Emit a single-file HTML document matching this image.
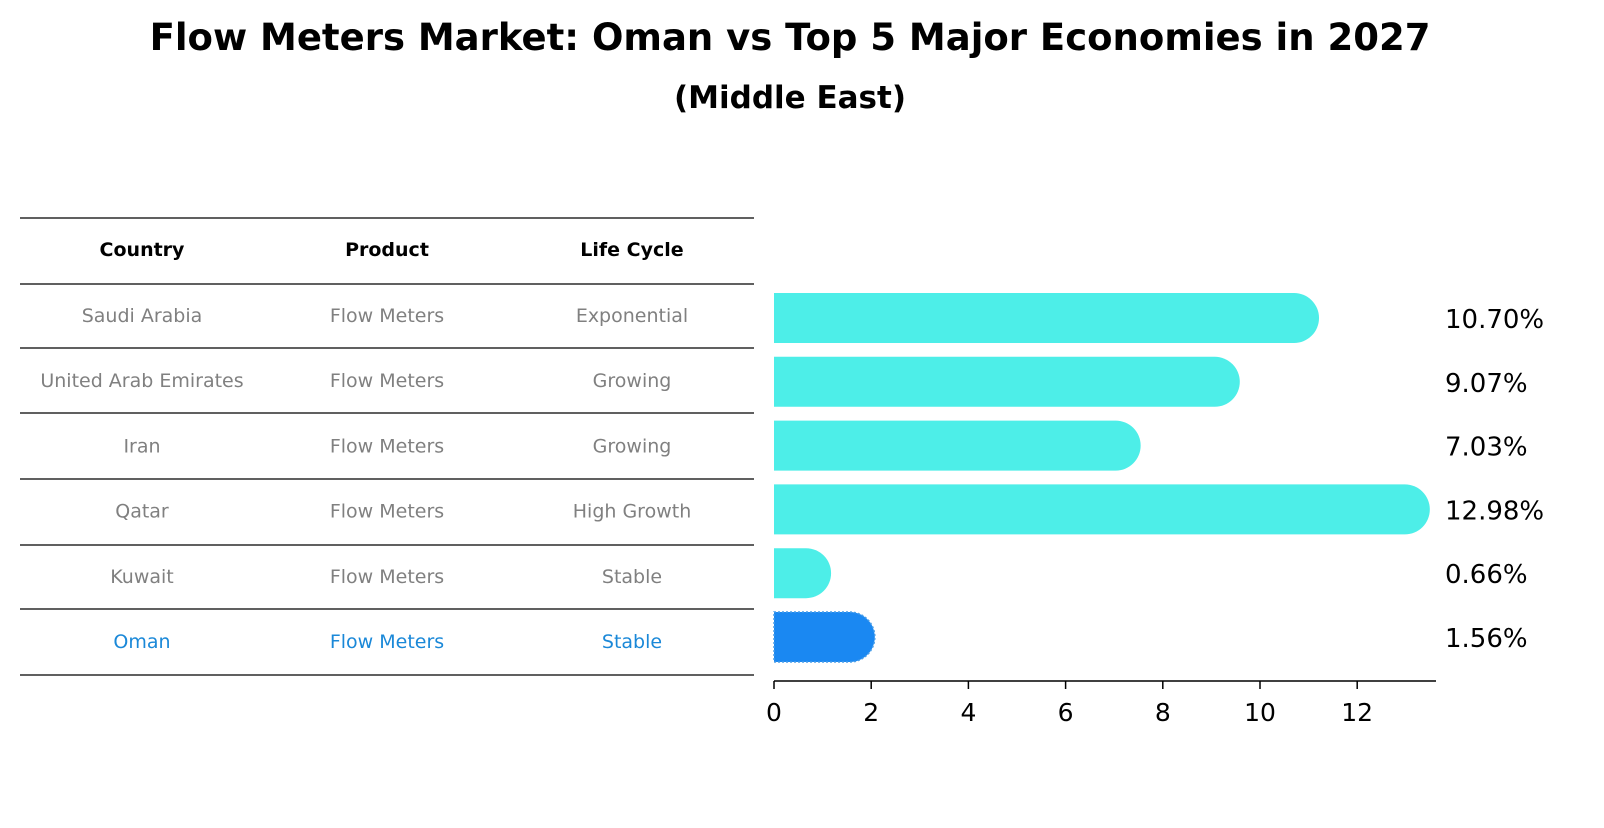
<!DOCTYPE html>
<html><head><meta charset="utf-8"><style>
body{margin:0;background:#fff;width:1604px;height:823px;overflow:hidden;font-family:"Liberation Sans","DejaVu Sans",sans-serif}
</style></head><body>
<svg width="1604" height="823" xmlns="http://www.w3.org/2000/svg" font-family="DejaVu Sans, Liberation Sans, sans-serif">
<text x="790" y="50" text-anchor="middle" font-size="37" font-weight="bold">Flow Meters Market: Oman vs Top 5 Major Economies in 2027</text>
<text x="790" y="108" text-anchor="middle" font-size="31" font-weight="bold">(Middle East)</text>
<g id="table"></g>
<g id="chart"></g>
</svg>
<script>
const countries=["Saudi Arabia","United Arab Emirates","Iran","Qatar","Kuwait","Oman"];
const products=["Flow Meters","Flow Meters","Flow Meters","Flow Meters","Flow Meters","Flow Meters"];
const lifecycles=["Exponential","Growing","Growing","High Growth","Stable","Stable"];
const values=[10.70,9.07,7.03,12.98,0.66,1.56];
const valueLabels=["10.70%","9.07%","7.03%","12.98%","0.66%","1.56%"];
const ticks=[0,2,4,6,8,10,12];
const NS="http://www.w3.org/2000/svg";
function mk(p,t,a,txt){const e=document.createElementNS(NS,t);for(const k in a)e.setAttribute(k,a[k]);if(txt!==undefined)e.textContent=txt;p.appendChild(e);return e;}
const tb=document.getElementById('table');
const lineYs=[218,284,348,413,479,545,609,675];
lineYs.forEach((y,i)=>{const l=mk(tb,'line',{x1:20,x2:754,y1:y,y2:y,stroke:'#000','stroke-width':1.2});

});
const colX=[142,387,632];
["Country","Product","Life Cycle"].forEach((h,i)=>{const t=mk(tb,'text',{x:colX[i],y:256,'text-anchor':'middle','font-size':19,'font-weight':'bold'},h);

});
countries.forEach((c,i)=>{const y=322+i*65.2;const col=c==="Oman"?'#1a88d8':'#808080';
[c,products[i],lifecycles[i]].forEach((v,j)=>{const t=mk(tb,'text',{x:colX[j],y:y,'text-anchor':'middle','font-size':19,fill:col},v);

});});
const ch=document.getElementById('chart');
const x0=774,pxu=48.6;const xs=v=>x0+v*pxu;
const barY=i=>318+i*63.8;const h=50,r=25;
values.forEach((v,i)=>{const cy=barY(i);const xe=xs(v);const isO=countries[i]==="Oman";const col=isO?'#1a88f2':'#4deee8';
const p=mk(ch,'path',{d:`M${x0},${cy-h/2} L${xe},${cy-h/2} A${r},${r} 0 0 1 ${xe},${cy+h/2} L${x0},${cy+h/2} Z`,fill:col});
if(isO){p.setAttribute('stroke','#4a9ee8');p.setAttribute('stroke-dasharray','2,2');p.setAttribute('stroke-width','1.5');}


const t=mk(ch,'text',{x:1445,y:cy+10,'font-size':26},valueLabels[i]);

});
const ax=mk(ch,'line',{x1:x0,x2:1436,y1:681,y2:681,stroke:'#000','stroke-width':1.5});


ticks.forEach(tv=>{const x=xs(tv);mk(ch,'line',{x1:x,x2:x,y1:681,y2:689,stroke:'#000','stroke-width':1.5});
const t=mk(ch,'text',{x:x,y:721,'text-anchor':'middle','font-size':25},String(tv));

});
</script>
</body></html>
